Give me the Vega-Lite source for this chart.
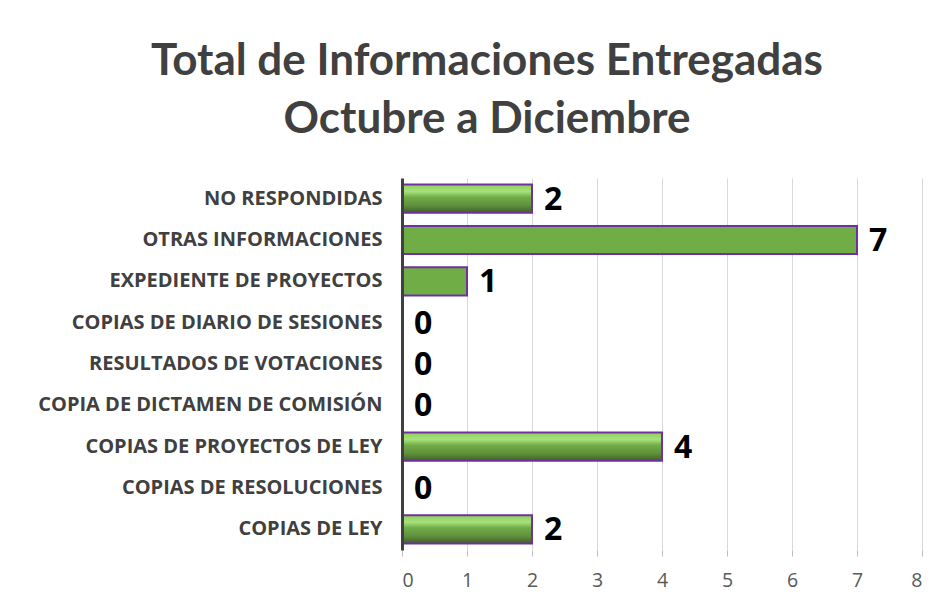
{
  "$schema": "https://vega.github.io/schema/vega-lite/v6.json",
  "autosize": "none",
  "width": 520,
  "height": 372,
  "padding": {"left": 402, "top": 178, "right": 28, "bottom": 58},
  "background": "white",
  "title": {
    "text": ["Total de Informaciones Entregadas", "Octubre a Diciembre"],
    "font": "Lato",
    "fontSize": 44,
    "fontWeight": "bold",
    "color": "#404040",
    "anchor": "middle",
    "dx": -175,
    "offset": 36,
    "lineHeight": 58
  },
  "data": {
    "values": [
      {"categoria": "NO RESPONDIDAS", "valor": 2},
      {"categoria": "OTRAS INFORMACIONES ", "valor": 7},
      {"categoria": "EXPEDIENTE DE PROYECTOS", "valor": 1},
      {"categoria": "COPIAS DE DIARIO DE SESIONES", "valor": 0},
      {"categoria": "RESULTADOS DE VOTACIONES", "valor": 0},
      {"categoria": "COPIA DE DICTAMEN DE COMISIÓN", "valor": 0},
      {"categoria": "COPIAS DE PROYECTOS DE LEY", "valor": 4},
      {"categoria": "COPIAS DE RESOLUCIONES", "valor": 0},
      {"categoria": "COPIAS DE LEY", "valor": 2}
    ]
  },
  "encoding": {
    "y": {
      "field": "categoria",
      "type": "nominal",
      "sort": ["NO RESPONDIDAS", "OTRAS INFORMACIONES ", "EXPEDIENTE DE PROYECTOS", "COPIAS DE DIARIO DE SESIONES", "RESULTADOS DE VOTACIONES", "COPIA DE DICTAMEN DE COMISIÓN", "COPIAS DE PROYECTOS DE LEY", "COPIAS DE RESOLUCIONES", "COPIAS DE LEY"],
      "scale": {"paddingInner": 0.32, "paddingOuter": 0.16},
      "axis": {
        "title": null,
        "labelFont": "Open Sans",
        "labelFontSize": 20,
        "labelFontWeight": "bold",
        "labelColor": "#404040",
        "labelPadding": 20,
        "labelLimit": 420,
        "ticks": false,
        "domainColor": "#404040",
        "domainWidth": 3,
        "grid": false,
        "zindex": 2
      }
    },
    "x": {
      "field": "valor",
      "type": "quantitative",
      "scale": {"domain": [0, 8], "nice": false},
      "axis": {
        "title": null,
        "values": [0, 1, 2, 3, 4, 5, 6, 7, 8],
        "labelOverlap": false,
        "labelFont": "Open Sans",
        "labelFontSize": 19.5,
        "labelColor": "#595959",
        "labelPadding": 15,
        "domain": false,
        "ticks": true,
        "tickColor": "#bfbfbf",
        "tickSize": 6,
        "grid": true,
        "gridColor": "#d9d9d9",
        "gridWidth": 1
      }
    }
  },
  "layer": [
    {
      "transform": [{"filter": {"field": "categoria", "oneOf": ["OTRAS INFORMACIONES ", "EXPEDIENTE DE PROYECTOS"]}}],
      "mark": {"type": "bar", "fill": "#70AD47", "stroke": "#7030A0", "strokeWidth": 2}
    },
    {
      "transform": [{"filter": {"not": {"field": "categoria", "oneOf": ["OTRAS INFORMACIONES ", "EXPEDIENTE DE PROYECTOS"]}}}, {"filter": "datum.valor > 0"}],
      "mark": {
        "type": "bar",
        "stroke": "#7030A0",
        "strokeWidth": 2,
        "fill": {
          "gradient": "linear",
          "x1": 0, "y1": 0, "x2": 0, "y2": 1,
          "stops": [
            {"offset": 0, "color": "#8fd15f"},
            {"offset": 0.25, "color": "#a6e07a"},
            {"offset": 0.45, "color": "#70AD47"},
            {"offset": 0.75, "color": "#5f8f3c"},
            {"offset": 1, "color": "#3f5f2a"}
          ]
        }
      }
    },
    {
      "mark": {
        "type": "text",
        "align": "left",
        "baseline": "middle",
        "dx": 12,
        "dy": 1,
        "font": "Open Sans",
        "fontSize": 32,
        "fontWeight": "bold",
        "color": "#000000"
      },
      "encoding": {"text": {"field": "valor", "type": "quantitative"}}
    }
  ],
  "config": {"view": {"stroke": null}}
}
